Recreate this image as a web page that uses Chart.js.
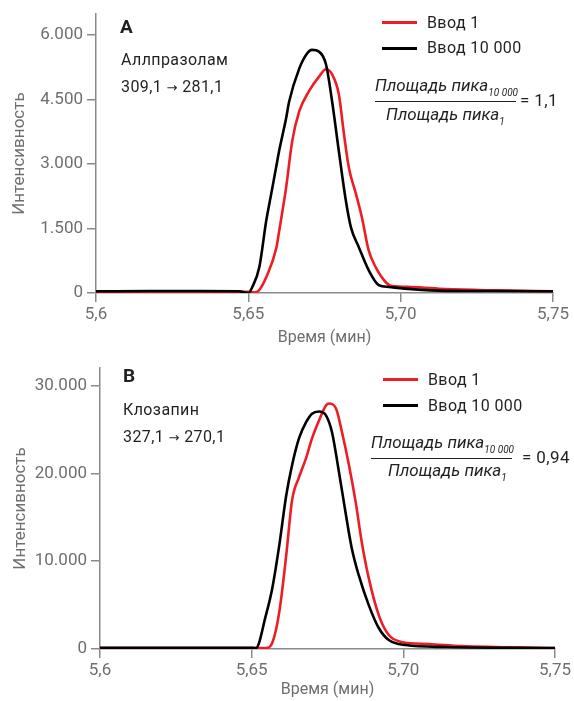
<!DOCTYPE html>
<html>
<head>
<meta charset="utf-8">
<script src="https://cdn.jsdelivr.net/npm/chart.js@4"></script>
<style>
  html, body { margin: 0; padding: 0; background: #fff; }
  #wrap { position: relative; width: 574px; height: 701px; overflow: hidden; font-family: Roboto, sans-serif; color: #231f20; }
  canvas { position: absolute; left: 0; }
  .t { position: absolute; white-space: nowrap; font-size: 16px; letter-spacing: 0.4px; line-height: 1; }
  .big { font-weight: bold; font-size: 19px; }
  .it { font-style: italic; font-size: 17px; letter-spacing: 0; }
  .sub { font-size: 10px; letter-spacing: 0; position: relative; top: 5px; }
  .arr { font-family: "DejaVu Sans", sans-serif; font-size: 13px; }
  .swatch { position: absolute; height: 3px; width: 35px; }
  .bar { position: absolute; height: 1px; background: #231f20; }
</style>
</head>
<body>
<div id="wrap">
  <canvas id="chartA" width="574" height="350" style="top:0"></canvas>
  <canvas id="chartB" width="574" height="351" style="top:350px"></canvas>

  <!-- panel A -->
  <div class="t big" style="left:120px;top:17px">A</div>
  <div class="t" style="left:121px;top:52px">Аллпразолам</div>
  <div class="t" style="left:121px;top:79px">309,1 <span class="arr">→</span> 281,1</div>
  <div class="swatch" style="left:382px;top:21px;background:#ee1c25"></div>
  <div class="t" style="left:427px;top:15px">Ввод 1</div>
  <div class="swatch" style="left:382px;top:47px;background:#000"></div>
  <div class="t" style="left:427px;top:40px">Ввод 10 000</div>
  <div class="t it" style="left:375px;top:77px">Площадь пика<span class="sub">10 000</span></div>
  <div class="bar" style="left:375px;top:101px;width:141px"></div>
  <div class="t it" style="left:386px;top:106px">Площадь пика<span class="sub">1</span></div>
  <div class="t" style="left:520px;top:92px;font-size:17px">= 1,1</div>

  <!-- panel B -->
  <div class="t big" style="left:123px;top:366px">B</div>
  <div class="t" style="left:123px;top:402px">Клозапин</div>
  <div class="t" style="left:123px;top:429px">327,1 <span class="arr">→</span> 270,1</div>
  <div class="swatch" style="left:383px;top:378px;background:#ee1c25"></div>
  <div class="t" style="left:428px;top:372px">Ввод 1</div>
  <div class="swatch" style="left:383px;top:404px;background:#000"></div>
  <div class="t" style="left:428px;top:398px">Ввод 10 000</div>
  <div class="t it" style="left:371px;top:434px">Площадь пика<span class="sub">10 000</span></div>
  <div class="bar" style="left:371px;top:458px;width:141px"></div>
  <div class="t it" style="left:388px;top:462px">Площадь пика<span class="sub">1</span></div>
  <div class="t" style="left:522px;top:449px;font-size:17px">= 0,94</div>
</div>

<script>
// x axis (time, min)
const xTickValues = [5.6, 5.65, 5.70, 5.75];
const xTickLabels = ['5,6', '5,65', '5,70', '5,75'];

// panel A: alprazolam 309,1 -> 281,1
const yTicksA      = [0, 1500, 3000, 4500, 6000];
const yTickLabelsA = ['0', '1.500', '3.000', '4.500', '6.000'];

const timeA1   = [5.600, 5.634, 5.6497, 5.652, 5.6536, 5.6559, 5.6592, 5.6601, 5.6624, 5.6644, 5.6667, 5.6699, 5.6732, 5.6755, 5.6775, 5.6797, 5.6814, 5.6830, 5.6853, 5.6873, 5.6895, 5.6918, 5.6951, 5.6971, 5.7036, 5.7147, 5.732, 5.75];
const valueA1  = [30, 30, 30, 10, 70, 370, 1050, 1430, 2450, 3530, 4220, 4690, 5030, 5200, 5080, 4620, 3690, 2910, 2310, 1750, 990, 600, 250, 160, 140, 90, 60, 40];

const timeA10k  = [5.600, 5.6176, 5.634, 5.647, 5.650, 5.6513, 5.6536, 5.6559, 5.6575, 5.6592, 5.6601, 5.6624, 5.6634, 5.6667, 5.6690, 5.6709, 5.6732, 5.6755, 5.6775, 5.6797, 5.6820, 5.6837, 5.6863, 5.6895, 5.6928, 5.6961, 5.7036, 5.7147, 5.732, 5.75];
const valueA10k = [40, 45, 45, 40, 0, 140, 600, 1690, 2300, 2950, 3300, 4060, 4450, 5215, 5540, 5650, 5610, 5310, 4450, 3300, 2150, 1520, 1060, 530, 185, 140, 90, 50, 45, 40];

// panel B: clozapine 327,1 -> 270,1
const yTicksB      = [0, 10000, 20000, 30000];
const yTickLabelsB = ['0', '10.000', '20.000', '30.000'];

const timeB1   = [5.600, 5.6525, 5.6547, 5.6568, 5.6591, 5.6614, 5.6633, 5.6656, 5.6679, 5.6699, 5.6722, 5.6745, 5.6755, 5.6778, 5.6798, 5.6821, 5.6843, 5.6863, 5.6886, 5.6919, 5.6952, 5.6994, 5.7083, 5.7191, 5.75];
const valueB1  = [120, 120, 100, 700, 4200, 10680, 16900, 19550, 21700, 23980, 26020, 27730, 27950, 27390, 24660, 20900, 16700, 12160, 8070, 3860, 1590, 800, 570, 340, 110];

const timeB10k  = [5.600, 5.6492, 5.6514, 5.6547, 5.6568, 5.6591, 5.6614, 5.6633, 5.6656, 5.6679, 5.6699, 5.6722, 5.6745, 5.6765, 5.6788, 5.6811, 5.6830, 5.6853, 5.6886, 5.6919, 5.6952, 5.7008, 5.7139, 5.75];
const valueB10k = [150, 150, 100, 3860, 6930, 11800, 17500, 20900, 23980, 25800, 26800, 27050, 26600, 24660, 20100, 15230, 11480, 8400, 5000, 2390, 1020, 450, 230, 110];

const AXIS  = '#8a8a8a';
const TEXT  = '#6f6f6f';
const RED   = '#ee1c25';
const BLACK = '#000000';
const FONT  = 'Roboto, sans-serif';

function points(xs, ys) {
  return xs.map((x, i) => ({ x, y: ys[i] }));
}

function makeChart(id, opt) {
  const ctx = document.getElementById(id).getContext('2d');
  return new Chart(ctx, {
    type: 'line',
    data: {
      datasets: [
        { label: 'Ввод 1',      data: points(opt.t1, opt.v1),     borderColor: RED,   order: 1 },
        { label: 'Ввод 10 000', data: points(opt.t10k, opt.v10k), borderColor: BLACK, order: 0 },
      ]
    },
    options: {
      responsive: false,
      animation: false,
      events: [],
      layout: { padding: { top: opt.padTop, right: opt.padRight, left: 0, bottom: 0 } },
      elements: {
        line: { borderWidth: 2.6, cubicInterpolationMode: 'monotone', fill: false },
        point: { radius: 0 }
      },
      plugins: { legend: { display: false }, tooltip: { enabled: false } },
      scales: {
        x: {
          type: 'linear', min: 5.6, max: 5.75,
          afterBuildTicks: s => { s.ticks = xTickValues.map(v => ({ value: v })); },
          afterFit: s => { s.height = opt.xHeight; },
          border: { display: true, color: AXIS, width: 1.5 },
          grid: { drawOnChartArea: false, drawTicks: true, tickLength: 9, color: AXIS, lineWidth: 1.5 },
          ticks: {
            color: TEXT, padding: 3, maxRotation: 0,
            font: { family: FONT, size: 17 },
            callback: (v) => xTickLabels[xTickValues.findIndex(t => Math.abs(t - v) < 1e-6)]
          },
          title: { display: true, text: 'Время (мин)', color: TEXT, font: { family: FONT, size: 16 }, padding: { top: 0, bottom: opt.xTitlePad } }
        },
        y: {
          type: 'linear', min: 0, max: opt.yMax,
          afterBuildTicks: s => { s.ticks = opt.yTicks.map(v => ({ value: v })); },
          afterFit: s => { s.width = opt.yWidth; },
          border: { display: true, color: AXIS, width: 1.5 },
          grid: { drawOnChartArea: false, drawTicks: true, tickLength: 9, color: AXIS, lineWidth: 1.5 },
          ticks: {
            color: TEXT, padding: 4,
            font: { family: FONT, size: 17 },
            callback: (v) => opt.yLabels[opt.yTicks.indexOf(v)]
          },
          title: { display: true, text: 'Интенсивность', color: TEXT, font: { family: FONT, size: 17 }, padding: { top: opt.yTitlePad, bottom: 0 } }
        }
      }
    }
  });
}

makeChart('chartA', {
  t1: timeA1, v1: valueA1, t10k: timeA10k, v10k: valueA10k,
  yMax: 6480, yTicks: yTicksA, yLabels: yTickLabelsA,
  padTop: 12, padRight: 21, yWidth: 96, xHeight: 57, xTitlePad: 2, yTitlePad: 10
});

makeChart('chartB', {
  t1: timeB1, v1: valueB1, t10k: timeB10k, v10k: valueB10k,
  yMax: 32000, yTicks: yTicksB, yLabels: yTickLabelsB,
  padTop: 18, padRight: 17, yWidth: 100, xHeight: 52, xTitlePad: 1, yTitlePad: 11
});
</script>
</body>
</html>
